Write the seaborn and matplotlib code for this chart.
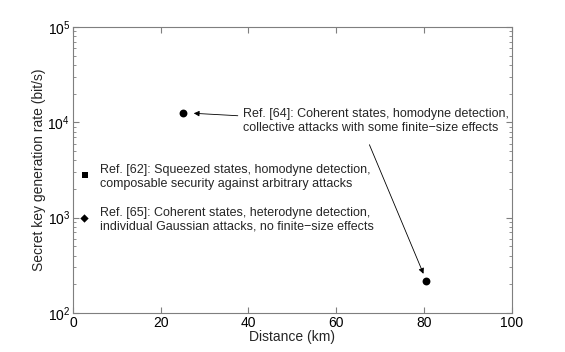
import numpy as np
import pandas as pd
import matplotlib
matplotlib.use("Agg")
import matplotlib.pyplot as plt
import seaborn as sns

# Secret key rate vs distance
refs = ["Ref. [64]", "Ref. [64]", "Ref. [62]", "Ref. [65]"]
distance_km = [25.1, 80.4, 2.7, 2.5]
key_rate = [1.25e4, 216, 2800, 1000]
markers = ["o", "o", "s", "D"]

labels = {
    "Ref. [64]": "Ref. [64]: Coherent states, homodyne detection,\ncollective attacks with some finite\u2212size effects",
    "Ref. [62]": "Ref. [62]: Squeezed states, homodyne detection,\ncomposable security against arbitrary attacks",
    "Ref. [65]": "Ref. [65]: Coherent states, heterodyne detection,\nindividual Gaussian attacks, no finite\u2212size effects",
}

df = pd.DataFrame({"ref": refs, "distance": distance_km, "rate": key_rate, "marker": markers})

sns.set_style("ticks")
plt.rcParams["font.family"] = ["Liberation Sans", "DejaVu Sans"]
plt.rcParams["mathtext.fontset"] = "custom"
plt.rcParams["mathtext.rm"] = "Liberation Sans"
plt.rcParams["mathtext.it"] = "Liberation Sans:italic"

fig, ax = plt.subplots(figsize=(5.65, 3.52), dpi=100)
fig.subplots_adjust(left=0.129, right=0.906, top=0.923, bottom=0.111)

sizes = {"o": 32, "s": 18, "D": 18}
for mk, sub in df.groupby("marker"):
    sns.scatterplot(data=sub, x="distance", y="rate", marker=mk, s=sizes[mk],
                    color="black", linewidth=0, ax=ax, legend=False, zorder=3)

ax.set_yscale("log")
ax.set_xlim(0, 100)
ax.set_ylim(1e2, 1e5)
ax.set_xticks([0, 20, 40, 60, 80, 100])
ax.set_xlabel("Distance (km)", fontsize=10, labelpad=0)
ax.set_ylabel("Secret key generation rate (bit/s)", fontsize=10, labelpad=1)

for side in ["top", "right", "left", "bottom"]:
    ax.spines[side].set_visible(True)
    ax.spines[side].set_color("#7f7f7f")
    ax.spines[side].set_linewidth(0.8)
ax.tick_params(which="both", direction="in", top=True, right=True, colors="#7f7f7f",
               labelcolor="black", labelsize=10, pad=2)
ax.tick_params(which="major", length=4)
ax.tick_params(which="minor", length=2.5)

fs = 9
# Ref. [64] text with arrows to both points
ax.annotate("", xy=(distance_km[0] + 1.8, key_rate[0]), xytext=(38.2, 1.17e4),
            arrowprops=dict(arrowstyle="-|>", color="black", lw=0.6, mutation_scale=8))
ax.annotate("", xy=(distance_km[1] - 0.3, key_rate[1] * 1.12), xytext=(67.3, 6.2e3),
            arrowprops=dict(arrowstyle="-|>", color="black", lw=0.6, mutation_scale=8))
ax.text(38.7, 1.03e4, labels["Ref. [64]"], fontsize=fs, va="center", ha="left",
        linespacing=1.2)
ax.text(6.2, 2.67e3, labels["Ref. [62]"], fontsize=fs, va="center", ha="left",
        linespacing=1.2)
ax.text(6.2, 9.45e2, labels["Ref. [65]"], fontsize=fs, va="center", ha="left",
        linespacing=1.2)

fig.savefig("out.png", dpi=100)
